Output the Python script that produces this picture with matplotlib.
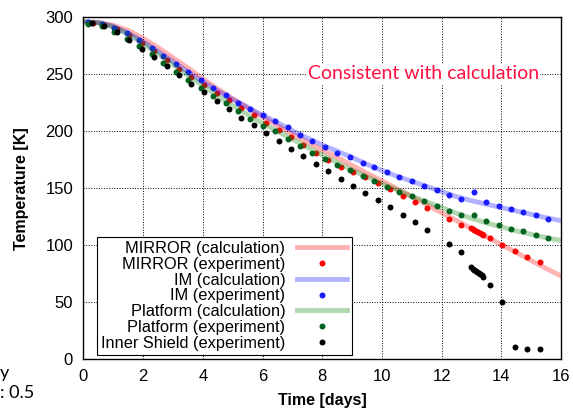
import matplotlib
matplotlib.use('Agg')
import matplotlib.pyplot as plt

# Calculated curves (days, K)
calc_days = [0, 0.5, 1, 1.5, 2, 2.5, 3, 3.5, 4, 4.5, 5, 5.5, 6, 6.5, 7, 7.5, 8,
             8.5, 9, 9.5, 10, 10.5, 11, 11.5, 12, 12.5, 13, 13.5, 14, 14.5, 15, 15.5, 16]
mirror_calc = [296, 295.5, 293, 288.5, 281.5, 273.5, 264.5, 255.5, 246, 237, 228.5, 220.5,
               212.5, 205, 197.5, 190.5, 183.5, 177, 170, 163, 156.5, 149.5, 142.5, 135.5,
               128.5, 121.5, 114.5, 107.5, 100.5, 93.5, 86.5, 79.5, 73]
im_calc = [296, 295.5, 292, 286, 278.5, 270, 261, 252, 243.5, 235.5, 228, 221, 214, 207.5,
           200.5, 194, 188, 182.5, 177, 171, 165.5, 160.5, 156, 151.5, 147, 142.5, 139,
           136, 133, 130, 127, 124, 121.5]
plat_calc = [296, 295, 291.5, 285, 277, 268, 258.5, 249, 240, 231, 222.5, 214.5, 207, 200,
             193, 186, 179, 172.5, 166, 160, 154, 148.5, 143, 138, 133, 128, 123.5, 119.5,
             116, 112.5, 109.5, 106.5, 104]

# Measured data, IM and Platform share one time base
ig_days = [0.16, 0.61, 1.02, 1.45, 1.86, 2.28, 2.67, 3.09, 3.51, 3.93, 4.35, 4.76, 5.17,
           5.59, 6.0, 6.42, 6.84, 7.25, 7.66, 8.09, 8.5, 8.93, 9.35, 9.74, 10.16, 10.58,
           11.0, 11.41, 11.83, 12.25, 12.66, 13.07, 13.49, 13.91, 14.32, 14.73, 15.15, 15.57]
im_exp = [295.5, 294.5, 291, 286, 280, 273, 266, 258.7, 251.9, 244.8, 238, 232, 225,
          219.3, 213.8, 209, 203.3, 197, 191.8, 186.5, 181.2, 177.7, 172.5, 169, 164, 159.5,
          156.3, 151.6, 148.4, 144, 140.5, 146.3, 137.6, 134, 131.4, 128.7, 126.1, 122.9]
plat_exp = [294, 292.3, 287.3, 281.2, 274.5, 267.4, 259.5, 252.2, 244.9, 238.1, 230.8,
            224.4, 217.5, 211, 205, 200.3, 193.5, 187, 181.2, 175.6, 170.6, 166.3, 161,
            156.6, 151.3, 146.6, 142.9, 138.4, 134.7, 130, 126.1, 126.4, 121.5, 117.9, 114.4,
            112, 109.1, 106.2]

# MIRROR and Inner Shield share another time base
mirror_days = [0.31, 0.70, 1.11, 1.53, 1.95, 2.36, 2.79, 3.20, 3.61, 4.04, 4.46, 4.87,
               5.29, 5.70, 6.11, 6.54, 6.95, 7.36, 7.79, 8.20, 8.62, 9.04, 9.45, 9.86,
               10.27, 10.69, 11.10, 11.52, 12.25, 12.66, 12.98, 13.04, 13.10, 13.16, 13.22,
               13.28, 13.34, 13.39, 13.63, 14.04, 14.46, 14.87, 15.29]
mirror_exp = [295, 293.5, 290, 284.5, 277.5, 270.5, 262.5, 255, 247.5, 240.5, 233.5, 227,
              220.5, 214, 207.5, 201, 194.5, 188, 181, 175, 169, 164.5, 159.5, 154.3, 149,
              143.4, 137.8, 132.6, 122.6, 117.6, 115.3, 114.5, 113.6, 112.6, 111.7, 110.8,
              109.9, 109.1, 105.9, 100, 95, 89.8, 85]
shield_days = [0.27, 0.70, 1.11, 1.53, 1.95, 2.36, 2.79, 3.20, 3.61, 4.04, 4.46, 4.87,
               5.29, 5.70, 6.11, 6.54, 6.95, 7.36, 7.79, 8.20, 8.62, 9.04, 9.45, 9.86,
               10.27, 10.69, 11.10, 11.52, 12.24, 12.66, 13.0, 13.05, 13.1, 13.15, 13.2,
               13.25, 13.3, 13.35, 13.39, 13.62, 14.03, 14.46, 14.87, 15.29]
shield_exp = [295, 292.3, 286.8, 280, 272.4, 265, 257.2, 249.5, 241.6, 234.3, 226.7,
              219.3, 212, 205.2, 198.5, 191.6, 184.4, 178.3, 171.6, 165.1, 158.4, 152.2,
              145.7, 139.7, 133.2, 126.7, 120.3, 113.5, 101.2, 94.2, 80.4, 79.4, 78.4, 77.4,
              76.4, 75.4, 74.4, 73.4, 72.4, 64.6, 50, 10.3, 8.9, 8.6]

plt.rcParams['font.family'] = ['Liberation Sans', 'DejaVu Sans']

fig = plt.figure(figsize=(5.73, 4.12), dpi=100)
ax = fig.add_axes([0.1457, 0.1286, 0.979 - 0.1457, 0.958 - 0.1286])

ms = 4.3
lw = 3.5
ax.plot(calc_days, mirror_calc, color='red', alpha=0.3, lw=lw, label='MIRROR (calculation)')
ax.plot(mirror_days, mirror_exp, 'o', color='#ff0000', ms=ms, mec='none', label='MIRROR (experiment)')
ax.plot(calc_days, im_calc, color='blue', alpha=0.3, lw=lw, label='IM (calculation)')
ax.plot(ig_days, im_exp, 'o', color='#1a1aff', ms=ms, mec='none', label='IM (experiment)')
ax.plot(calc_days, plat_calc, color='#008000', alpha=0.3, lw=lw, label='Platform (calculation)')
ax.plot(ig_days, plat_exp, 'o', color='#006420', ms=ms, mec='none', label='Platform (experiment)')
ax.plot(shield_days, shield_exp, 'o', color='black', ms=ms, mec='none', label='Inner Shield (experiment)')

ax.set_xlim(0, 16)
ax.set_ylim(0, 300)
ax.set_xticks(range(0, 17, 2))
ax.set_yticks(range(0, 301, 50))
ax.tick_params(direction='in', labelsize=12, length=0, pad=7.5)
ax.grid(True, color='black', linestyle=':', linewidth=0.7)
for s in ax.spines.values():
    s.set_linewidth(1.0)

ax.set_xlabel('Time [days]', fontsize=11.5, fontweight='bold', labelpad=6)
ax.set_ylabel('Temperature [K]', fontsize=11.5, fontweight='bold', labelpad=12)

leg = ax.legend(loc='lower left', bbox_to_anchor=(0.028, 0.012), markerfirst=False,
                fontsize=11.8, frameon=True, fancybox=False, edgecolor='black',
                framealpha=1, borderpad=0.25, labelspacing=0.05, handlelength=3.1,
                handletextpad=0.7, borderaxespad=0, numpoints=1)
leg.get_frame().set_linewidth(0.8)
for t in leg.get_texts():
    t.set_ha('right')
leg._legend_box.align = 'right'

ax.text(0.47, 0.835, 'Consistent with calculation', transform=ax.transAxes,
        fontsize=14, color='#ff1040', family=['Lato', 'DejaVu Sans'], ha='left', va='center',
        bbox=dict(facecolor='white', edgecolor='none', pad=1))

fig.text(0.0, 0.034, 'y\n: 0.5', fontsize=13, family=['Lato', 'DejaVu Sans'],
         linespacing=1.3, va='baseline')

fig.savefig('out.png', dpi=100)
